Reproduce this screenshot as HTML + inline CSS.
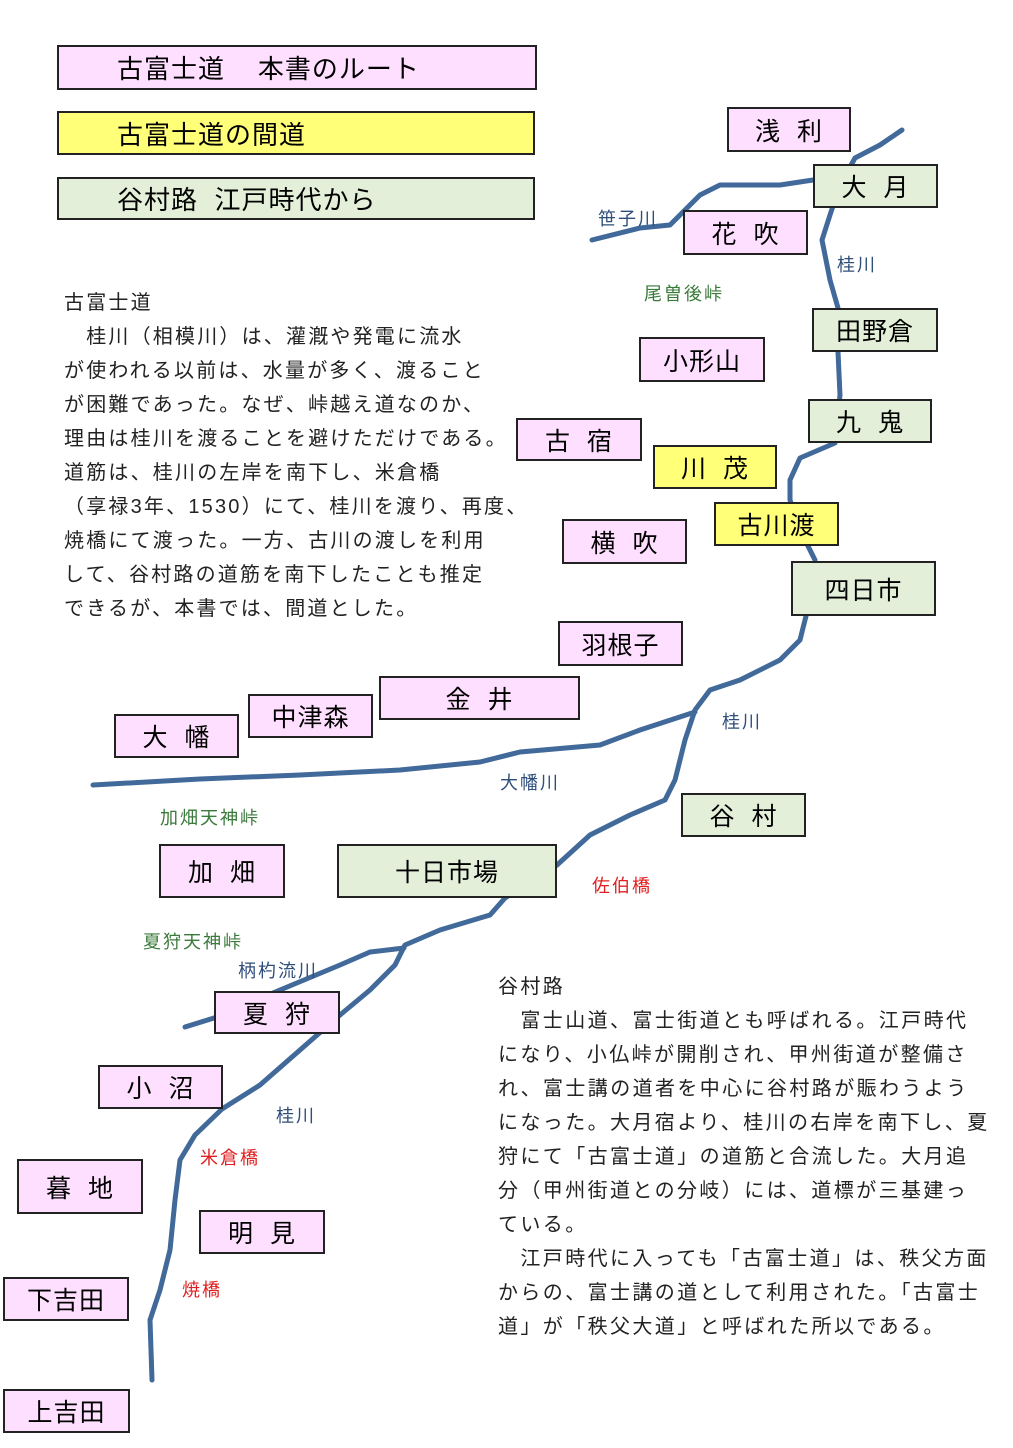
<!DOCTYPE html>
<html><head><meta charset="utf-8">
<style>
body{margin:0;width:1013px;height:1448px;background:#fff;position:relative;overflow:hidden;font-family:"Liberation Sans","Noto Sans CJK JP",sans-serif;}
.b{position:absolute;box-sizing:border-box;border:2px solid #222;display:flex;align-items:center;justify-content:center;font-size:25px;color:#000;letter-spacing:1px;}
.p{background:#ffdfff}.y{background:#ffff78}.g{background:#e3efd9}
.t{position:absolute;font-size:18px;white-space:nowrap;letter-spacing:2px}
.para{position:absolute;font-size:20px;line-height:34px;letter-spacing:2.2px;white-space:nowrap;color:#222}
svg{position:absolute;left:0;top:0}
</style></head><body>
<svg width="1013" height="1448"><g fill="none" stroke="#41699a" stroke-width="5" stroke-linejoin="round" stroke-linecap="round">
<polyline points="902,130 880,145 855,158 840,185 830,215 822,240 830,280 838,308 838,352 840,395 835,443 800,458 790,480 790,500 800,530 815,560"/>
<polyline points="806,616 800,640 780,660 740,680 710,690 695,710 685,740 675,780 665,800 630,815 590,835 557,865 505,898 490,915 440,930 405,945 395,965 370,990 340,1015 300,1050 260,1085 222,1109 195,1135 180,1160 175,1200 170,1250 160,1290 150,1320 152,1380"/>
<polyline points="592,240 640,228 670,225 700,195 720,185 780,185 813,180"/>
<polyline points="93,785 200,779 300,775 400,770 480,762 520,752 600,745 640,730 695,712"/>
<polyline points="185,1027 214,1018 280,990 340,965 370,952 404,948"/>
</g></svg>

<div class="b p" style="left:57px;top:45px;width:480px;height:45px;justify-content:flex-start;padding-left:58px;font-size:26px">古富士道&nbsp;&nbsp;&nbsp;&nbsp;本書のルート</div>
<div class="b y" style="left:57px;top:111px;width:478px;height:44px;justify-content:flex-start;padding-left:58px;font-size:26px">古富士道の間道</div>
<div class="b g" style="left:57px;top:177px;width:478px;height:43px;justify-content:flex-start;padding-left:58px;font-size:26px">谷村路&nbsp;&nbsp;江戸時代から</div>

<div class="b p" style="left:727px;top:107px;width:124px;height:45px">浅&nbsp;&nbsp;利</div>
<div class="b g" style="left:813px;top:164px;width:125px;height:44px">大&nbsp;&nbsp;月</div>
<div class="b p" style="left:683px;top:210px;width:125px;height:45px">花&nbsp;&nbsp;吹</div>
<div class="b g" style="left:812px;top:308px;width:126px;height:44px">田野倉</div>
<div class="b p" style="left:639px;top:337px;width:126px;height:45px">小形山</div>
<div class="b g" style="left:808px;top:399px;width:124px;height:44px">九&nbsp;&nbsp;鬼</div>
<div class="b p" style="left:516px;top:418px;width:126px;height:43px">古&nbsp;&nbsp;宿</div>
<div class="b y" style="left:653px;top:445px;width:124px;height:44px">川&nbsp;&nbsp;茂</div>
<div class="b y" style="left:714px;top:502px;width:125px;height:44px">古川渡</div>
<div class="b p" style="left:562px;top:519px;width:125px;height:45px">横&nbsp;&nbsp;吹</div>
<div class="b g" style="left:791px;top:561px;width:145px;height:55px">四日市</div>
<div class="b p" style="left:558px;top:621px;width:125px;height:45px">羽根子</div>
<div class="b p" style="left:379px;top:676px;width:201px;height:44px">金&nbsp;&nbsp;井</div>
<div class="b p" style="left:248px;top:694px;width:125px;height:44px">中津森</div>
<div class="b p" style="left:114px;top:714px;width:125px;height:44px">大&nbsp;&nbsp;幡</div>
<div class="b g" style="left:681px;top:793px;width:125px;height:44px">谷&nbsp;&nbsp;村</div>
<div class="b g" style="left:337px;top:844px;width:220px;height:54px">十日市場</div>
<div class="b p" style="left:159px;top:844px;width:126px;height:54px">加&nbsp;&nbsp;畑</div>
<div class="b p" style="left:214px;top:991px;width:126px;height:43px">夏&nbsp;&nbsp;狩</div>
<div class="b p" style="left:98px;top:1065px;width:125px;height:44px">小&nbsp;&nbsp;沼</div>
<div class="b p" style="left:17px;top:1159px;width:126px;height:55px">暮&nbsp;&nbsp;地</div>
<div class="b p" style="left:199px;top:1210px;width:126px;height:44px">明&nbsp;&nbsp;見</div>
<div class="b p" style="left:3px;top:1277px;width:126px;height:44px">下吉田</div>
<div class="b p" style="left:3px;top:1389px;width:127px;height:44px">上吉田</div>

<div class="t" style="left:598px;top:205px;color:#2f4e7a">笹子川</div>
<div class="t" style="left:837px;top:251px;color:#2f4e7a">桂川</div>
<div class="t" style="left:644px;top:280px;color:#3a7a3a">尾曽後峠</div>
<div class="t" style="left:722px;top:708px;color:#2f4e7a">桂川</div>
<div class="t" style="left:500px;top:769px;color:#2f4e7a">大幡川</div>
<div class="t" style="left:160px;top:804px;color:#3a7a3a">加畑天神峠</div>
<div class="t" style="left:592px;top:872px;color:#e02020">佐伯橋</div>
<div class="t" style="left:143px;top:928px;color:#3a7a3a">夏狩天神峠</div>
<div class="t" style="left:238px;top:957px;color:#2f4e7a">柄杓流川</div>
<div class="t" style="left:276px;top:1102px;color:#2f4e7a">桂川</div>
<div class="t" style="left:200px;top:1144px;color:#e02020">米倉橋</div>
<div class="t" style="left:182px;top:1276px;color:#e02020">焼橋</div>

<div class="para" style="left:64px;top:286px">古富士道<br>　桂川（相模川）は、灌漑や発電に流水<br>が使われる以前は、水量が多く、渡ること<br>が困難であった。なぜ、峠越え道なのか、<br>理由は桂川を渡ることを避けただけである。<br>道筋は、桂川の左岸を南下し、米倉橋<br>（享禄3年、1530）にて、桂川を渡り、再度、<br>焼橋にて渡った。一方、古川の渡しを利用<br>して、谷村路の道筋を南下したことも推定<br>できるが、本書では、間道とした。</div>

<div class="para" style="left:498px;top:970px;letter-spacing:2.4px">谷村路<br>　富士山道、富士街道とも呼ばれる。江戸時代<br>になり、小仏峠が開削され、甲州街道が整備さ<br>れ、富士講の道者を中心に谷村路が賑わうよう<br>になった。大月宿より、桂川の右岸を南下し、夏<br>狩にて「古富士道」の道筋と合流した。大月追<br>分（甲州街道との分岐）には、道標が三基建っ<br>ている。<br>　江戸時代に入っても「古富士道」は、秩父方面<br>からの、富士講の道として利用された。「古富士<br>道」が「秩父大道」と呼ばれた所以である。</div>
</body></html>
